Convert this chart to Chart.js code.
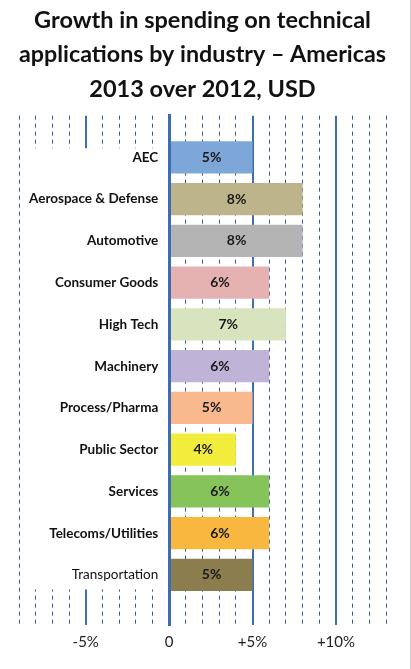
<!DOCTYPE html>
<html>
<head>
<meta charset="utf-8">
<script src="https://cdn.jsdelivr.net/npm/chart.js@4/dist/chart.umd.min.js"></script>
<style>
html,body{margin:0;padding:0;background:#fff;}
#wrap{width:410px;height:669px;border-right:1px solid #cfcfcf;}
canvas{display:block;}
</style>
</head>
<body>
<div id="wrap"><canvas id="c" width="410" height="669"></canvas></div>
<script>
const titleLines = ['Growth in spending on technical', 'applications by industry \u2013 Americas', '2013 over 2012, USD'];
const categories = ['AEC', 'Aerospace & Defense', 'Automotive', 'Consumer Goods', 'High Tech', 'Machinery', 'Process/Pharma', 'Public Sector', 'Services', 'Telecoms/Utilities', 'Transportation'];
const growth = [5, 8, 8, 6, 7, 6, 5, 4, 6, 6, 5];
const barColors = ['#7da6d9', '#bdb48c', '#b4b4b4', '#e6b1b1', '#d7e4bd', '#bfb3d7', '#f9b98e', '#f2ec3c', '#86c35a', '#f8b73e', '#8b7d4d'];
const xTickValues = [-5, 0, 5, 10];
const xTickLabels = ['-5%', '0', '+5%', '+10%'];
const regularWeightLabels = ['Transportation'];

Chart.defaults.font.family = 'Lato';

const labelMask = {
  id: 'labelMask',
  beforeDatasetsDraw(chart) {
    const xs = chart.scales.x, ys = chart.scales.y, ctx = chart.ctx;
    const l = xs.getPixelForValue(-8.7), r = xs.getPixelForValue(-0.2);
    const t = ys.getPixelForValue(-0.22), b = ys.getPixelForValue(10.35);
    ctx.save();
    ctx.fillStyle = '#ffffff';
    ctx.fillRect(l, t, r - l, b - t);
    ctx.restore();
  }
};

const barLabels = {
  id: 'barLabels',
  afterDatasetsDraw(chart) {
    const ctx = chart.ctx;
    const meta = chart.getDatasetMeta(0);
    ctx.save();
    ctx.font = 'bold 14px Lato';
    ctx.fillStyle = '#1a1a1a';
    ctx.textAlign = 'center';
    ctx.textBaseline = 'middle';
    meta.data.forEach((el, i) => {
      ctx.fillText(growth[i] + '%', (el.x + el.base) / 2, el.y);
    });
    ctx.restore();
  }
};

new Chart(document.getElementById('c'), {
  type: 'bar',
  data: {
    datasets: [{
      data: growth.map((v, i) => ({x: v, y: i})),
      backgroundColor: barColors,
      borderWidth: 0,
      barPercentage: 0.77,
      categoryPercentage: 1,
      xAxisID: 'x',
      yAxisID: 'y'
    }]
  },
  options: {
    indexAxis: 'y',
    responsive: false,
    animation: false,
    devicePixelRatio: 1,
    layout: {padding: {left: 19, right: 24, top: 0, bottom: 9}},
    plugins: {
      legend: {display: false},
      tooltip: {enabled: false},
      title: {
        display: true,
        text: titleLines,
        color: '#111',
        font: {family: 'Lato', size: 23.5, weight: 'bold', lineHeight: 1.47},
        padding: {top: 3, bottom: 9}
      }
    },
    scales: {
      x: {
        type: 'linear',
        min: -9,
        max: 13,
        position: 'bottom',
        afterFit: (s) => { s.height = 35; },
        grid: {
          drawTicks: false,
          color: (c) => {
            const v = c.tick ? c.tick.value : null;
            return (v !== null && v % 5 === 0) ? '#3e6db4' : '#2f5b9e';
          },
          lineWidth: (c) => {
            const v = c.tick ? c.tick.value : null;
            if (v === 0) return 3;
            return (v !== null && v % 5 === 0) ? 2 : 1;
          }
        },
        border: {
          display: false,
          dash: (c) => {
            const v = c.tick ? c.tick.value : null;
            return (v !== null && v % 5 !== 0) ? [4, 4] : [];
          }
        },
        ticks: {
          stepSize: 1,
          autoSkip: false,
          maxRotation: 0,
          padding: 8,
          color: '#222',
          font: {family: 'Lato', size: 15},
          callback: (v) => {
            const i = xTickValues.indexOf(v);
            return i >= 0 ? xTickLabels[i] : '';
          }
        }
      },
      y: {
        type: 'linear',
        min: -1,
        max: 11.2,
        reverse: true,
        offset: false,
        position: {x: 0},
        grid: {display: false, drawTicks: false, offset: false},
        border: {display: true, color: '#3d6cb3', width: 3, z: 1},
        ticks: {display: false, stepSize: 1}
      },
      yLabels: {
        type: 'linear',
        axis: 'y',
        min: -1,
        max: 11.2,
        reverse: true,
        offset: false,
        position: {x: -0.65},
        grid: {display: false, drawTicks: false, offset: false},
        border: {display: false},
        ticks: {
          z: 1,
          stepSize: 1,
          autoSkip: false,
          padding: 0,
          color: '#111',
          font: (c) => {
            const name = c.tick ? categories[c.tick.value] : undefined;
            return {family: 'Lato', size: 13.5, weight: regularWeightLabels.includes(name) ? 'normal' : 'bold'};
          },
          callback: (v) => (Number.isInteger(v) && categories[v] !== undefined) ? categories[v] : ''
        }
      }
    }
  },
  plugins: [labelMask, barLabels]
});
</script>
</body>
</html>
